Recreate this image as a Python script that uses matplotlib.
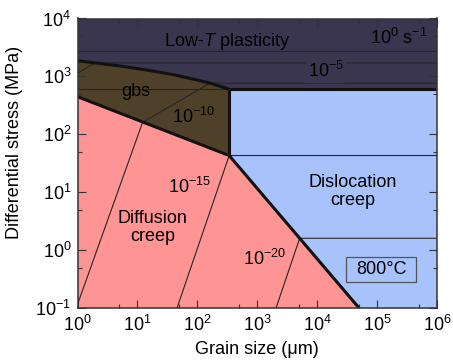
import matplotlib
matplotlib.use("Agg")
import matplotlib.pyplot as plt
from matplotlib.ticker import LogLocator, LogFormatterMathtext, NullFormatter
from matplotlib.patches import Polygon, Rectangle

plt.rcParams['font.family'] = ['Liberation Sans', 'DejaVu Sans']
plt.rcParams['mathtext.fontset'] = 'custom'
plt.rcParams['mathtext.rm'] = 'Liberation Sans'
plt.rcParams['mathtext.it'] = 'Liberation Sans:italic'
plt.rcParams['mathtext.default'] = 'regular'

# ---- mechanism boundaries: grain size (µm), differential stress (MPa) ----
lowT_gbs_d = [1, 5.1, 16.2, 42.4, 91.6, 163, 239, 340]
lowT_gbs_s = [1866, 1514, 1265, 1057, 883, 764, 675, 600]

gbs_diff_d = [1, 340]
gbs_diff_s = [446, 43]

diff_disl_d = [340, 50000]
diff_disl_s = [43, 0.1]

gbs_disl_d = [340, 340]
gbs_disl_s = [43, 600]

lowT_disl_d = [340, 1e6]
lowT_disl_s = [600, 600]

# reference stress level carried across the gbs field
gbs_level_d = [1, 340]
gbs_level_s = [600, 600]

# ---- strain-rate contours (s^-1) ----
rate_0_d = [1, 1e6]
rate_0_s = [2780, 2780]
rate_5_d = [1, 1.96, 1e6]
rate_5_s = [1133, 1710, 1710]
rate_10_d = [1.0, 12.2, 163, 1e6]
rate_10_s = [0.115, 161, 764, 764]
rate_15_d = [45.8, 340, 1e6]
rate_15_s = [0.1, 43, 43]
rate_20_d = [2060, 5100, 1e6]
rate_20_s = [0.1, 1.6, 1.6]

d_min, d_max = 1, 1e6
s_min, s_max = 0.1, 1e4

col_lowT = '#3b3650'
col_gbs = '#4f4129'
col_diff = '#ff9494'
col_disl = '#a8c2fc'
col_line = '#111111'
col_contour = '#262626'

fig = plt.figure(figsize=(4.53, 3.60), dpi=100)
ax = fig.add_axes([77.5 / 453, 1 - 308 / 360, 359.5 / 453, 289.5 / 360])
ax.set_xscale('log')
ax.set_yscale('log')
ax.set_xlim(d_min, d_max)
ax.set_ylim(s_min, s_max)

# ---- filled mechanism fields ----
lowT_poly = ([(d_min, s_max), (d_max, s_max), (d_max, lowT_disl_s[1])] +
             list(zip(lowT_gbs_d[::-1], lowT_gbs_s[::-1])))
gbs_poly = (list(zip(lowT_gbs_d, lowT_gbs_s)) +
            [(gbs_diff_d[1], gbs_diff_s[1]), (gbs_diff_d[0], gbs_diff_s[0])])
diff_poly = [(gbs_diff_d[0], gbs_diff_s[0]), (gbs_diff_d[1], gbs_diff_s[1]),
             (diff_disl_d[1], diff_disl_s[1]), (d_min, s_min)]
disl_poly = [(lowT_disl_d[0], lowT_disl_s[0]), (d_max, lowT_disl_s[1]),
             (d_max, s_min), (diff_disl_d[1], diff_disl_s[1]),
             (diff_disl_d[0], diff_disl_s[0])]

for poly, col in [(lowT_poly, col_lowT), (gbs_poly, col_gbs),
                  (diff_poly, col_diff), (disl_poly, col_disl)]:
    ax.add_patch(Polygon(poly, closed=True, facecolor=col, edgecolor=col,
                         lw=0.5, zorder=1))

# ---- strain-rate contours ----
for dd, ss in [(rate_0_d, rate_0_s), (rate_5_d, rate_5_s),
               (rate_10_d, rate_10_s), (rate_15_d, rate_15_s),
               (rate_20_d, rate_20_s), (gbs_level_d, gbs_level_s)]:
    ax.plot(dd, ss, color=col_contour, lw=0.8, zorder=2, solid_capstyle='butt')

# ---- boundaries ----
for dd, ss in [(lowT_gbs_d, lowT_gbs_s), (gbs_diff_d, gbs_diff_s),
               (diff_disl_d, diff_disl_s), (gbs_disl_d, gbs_disl_s),
               (lowT_disl_d, lowT_disl_s)]:
    ax.plot(dd, ss, color=col_line, lw=2.2, zorder=3,
            solid_joinstyle='round', solid_capstyle='butt')

# ---- labels ----
fs = 13
ax.text(313, 3350, r'Low-$\mathit{T}$ plasticity', fontsize=fs, ha='center',
        va='baseline', zorder=5)
ax.text(7.1e5, 3700, r'$10^{0}\ s^{-1}$', fontsize=fs, ha='right', va='baseline', zorder=5)
ax.text(7050, 964, r'$10^{-5}$', fontsize=fs, ha='left', va='baseline', zorder=5,
        bbox=dict(boxstyle='square,pad=0.1', facecolor=col_lowT, edgecolor='none'))
ax.text(5.47, 458, 'gbs', fontsize=fs, ha='left', va='baseline', zorder=5)
ax.text(37.4, 158, r'$10^{-10}$', fontsize=fs, ha='left', va='baseline', zorder=5)
ax.text(32.8, 9.8, r'$10^{-15}$', fontsize=fs, ha='left', va='baseline', zorder=5)
ax.text(573, 0.553, r'$10^{-20}$', fontsize=fs, ha='left', va='baseline', zorder=5)
ax.text(17.9, 2.94, 'Diffusion', fontsize=fs, ha='center', va='baseline', zorder=5)
ax.text(17.9, 1.45, 'creep', fontsize=fs, ha='center', va='baseline', zorder=5)
ax.text(39000, 12.3, 'Dislocation', fontsize=fs, ha='center', va='baseline', zorder=5)
ax.text(39000, 6.0, 'creep', fontsize=fs, ha='center', va='baseline', zorder=5)

ax.add_patch(Rectangle((0.7469, 0.0908), 0.1947, 0.0843, transform=ax.transAxes,
                       facecolor=col_disl, edgecolor='#555555', lw=0.9, zorder=4))
ax.text(0.8443, 0.1330, '800°C', transform=ax.transAxes, fontsize=fs,
        ha='center', va='center', zorder=5)

# ---- axes styling ----
for sp in ax.spines.values():
    sp.set_color('#333333')
    sp.set_linewidth(1.1)
    sp.set_zorder(6)

ax.xaxis.set_major_locator(LogLocator(base=10, numticks=20))
ax.yaxis.set_major_locator(LogLocator(base=10, numticks=20))
ax.xaxis.set_minor_locator(LogLocator(base=10, subs=[5], numticks=20))
ax.yaxis.set_minor_locator(LogLocator(base=10, subs=[5], numticks=20))
ax.xaxis.set_major_formatter(LogFormatterMathtext())
ax.yaxis.set_major_formatter(LogFormatterMathtext())
ax.xaxis.set_minor_formatter(NullFormatter())
ax.yaxis.set_minor_formatter(NullFormatter())
ax.tick_params(which='both', direction='in', top=True, right=True,
               color='#333333', width=0.8, labelsize=fs, zorder=6)
ax.tick_params(which='major', length=5.5)
ax.tick_params(which='minor', length=3)
ax.tick_params(axis='x', which='major', pad=5)
ax.tick_params(axis='y', which='major', pad=4.5)

fig.text(257 / 453, 1 - 354 / 360, 'Grain size (μm)', fontsize=fs,
         ha='center', va='baseline')
fig.text(15 / 453, 1 - 142 / 360, 'Differential stress (MPa)', fontsize=fs,
         ha='center', va='center', rotation=90)

fig.savefig('out.png', dpi=100)
